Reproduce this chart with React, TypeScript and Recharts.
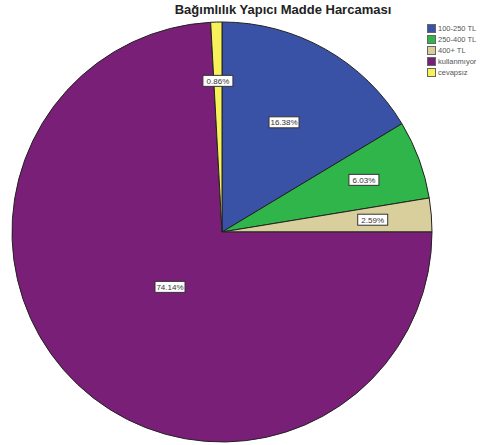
import { PieChart, Pie, Cell, Legend } from "recharts";

const categories = ["100-250 TL", "250-400 TL", "400+ TL", "kullanmıyor", "cevapsız"];
const shares = [16.38, 6.03, 2.59, 74.14, 0.86];
const colors = ["#3a52a6", "#2fb54a", "#d9cf9c", "#7a1f78", "#f8f25a"];

const data = categories.map((name, i) => ({ name, value: shares[i] }));

const RADIAN = Math.PI / 180;

function renderLabel(props: any) {
  const { cx, cy, midAngle, outerRadius, value } = props;
  const f = value > 50 ? 0.36 : value < 10 ? 0.72 : 0.6;
  const x = cx + outerRadius * f * Math.cos(-midAngle * RADIAN);
  const y = cy + outerRadius * f * Math.sin(-midAngle * RADIAN);
  const text = `${value.toFixed(2)}%`;
  const w = 30;
  const h = 11;
  return (
    <g>
      <rect x={x - w / 2} y={y - h / 2} width={w} height={h} fill="#fff" stroke="#333" strokeWidth={1} />
      <text x={x} y={y + 3} textAnchor="middle" fontSize={8} fill="#333" fontFamily="Liberation Sans, Arial, sans-serif">
        {text}
      </text>
    </g>
  );
}

function LegendBox() {
  return (
    <div style={{ fontFamily: "Liberation Sans, Arial, sans-serif", fontSize: 7.5, color: "#555" }}>
      {categories.map((c, i) => (
        <div key={c} style={{ display: "flex", alignItems: "center", height: 11 }}>
          <span
            style={{
              display: "inline-block",
              width: 7,
              height: 7,
              background: colors[i],
              border: "1px solid #666",
              marginRight: 2,
            }}
          />
          <span style={{ whiteSpace: "nowrap" }}>{c}</span>
        </div>
      ))}
    </div>
  );
}

export default function App() {
  return (
    <div style={{ position: "absolute", left: 0, top: 0, width: 492, height: 445, background: "#fff", overflow: "hidden" }}>
      <div
        style={{
          position: "absolute",
          left: 0,
          width: 566,
          top: 2,
          textAlign: "center",
          fontFamily: "Liberation Sans, Arial, sans-serif",
          fontWeight: "bold",
          fontSize: 13,
          color: "#222",
        }}
      >
        Bağımlılık Yapıcı Madde Harcaması
      </div>
      <PieChart width={492} height={445} margin={{ top: 0, right: 0, bottom: 0, left: 0 }}>
        <Pie
          data={data}
          dataKey="value"
          nameKey="name"
          cx={222}
          cy={232}
          outerRadius={210}
          startAngle={90}
          endAngle={-270}
          stroke="#222"
          strokeWidth={1}
          label={renderLabel}
          labelLine={false}
          isAnimationActive={false}
        >
          {data.map((d, i) => (
            <Cell key={d.name} fill={colors[i]} />
          ))}
        </Pie>
        <Legend
          content={<LegendBox />}
          layout="vertical"
          wrapperStyle={{ position: "absolute", left: 427, top: 23, width: 70 }}
        />
      </PieChart>
    </div>
  );
}
